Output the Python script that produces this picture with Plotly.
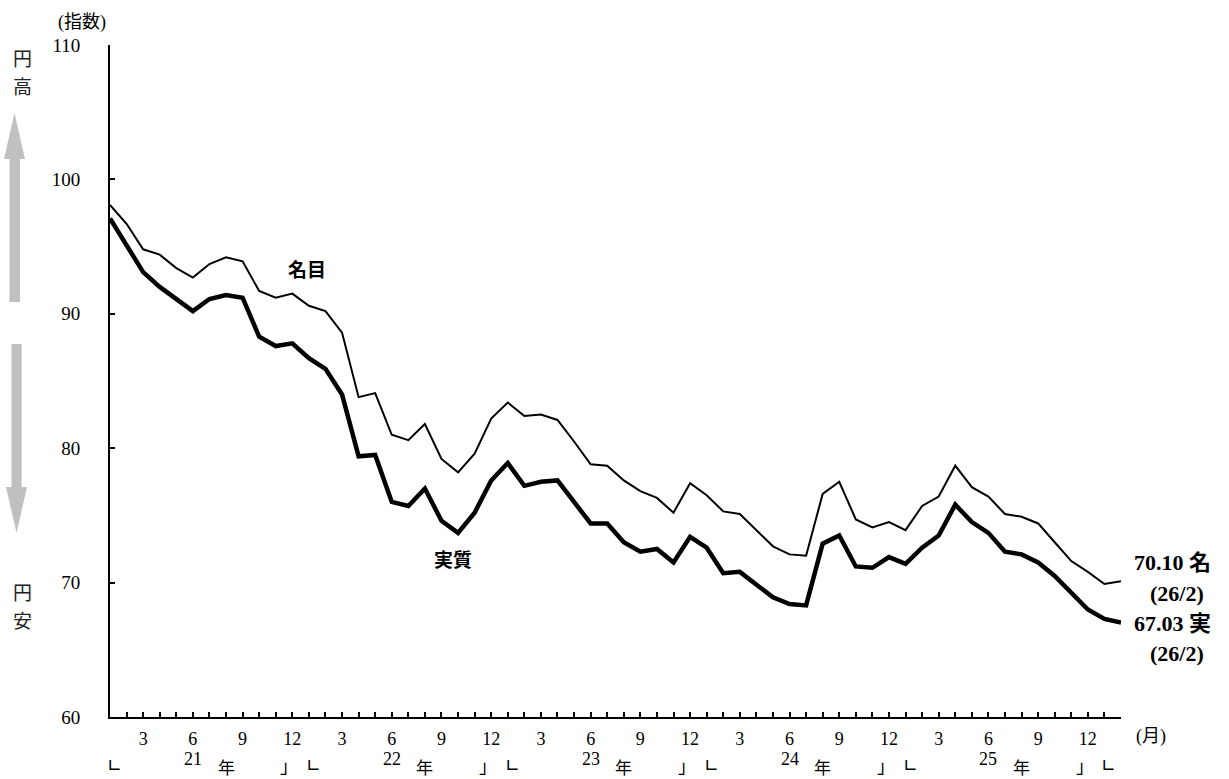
import plotly.graph_objects as go

# ---- data (monthly, Jan 2021 .. Feb 2026) ----
years = ["21", "22", "23", "24", "25", "26"]
month_numbers = [1, 2, 3, 4, 5, 6, 7, 8, 9, 10, 11, 12]
nominal = [98.1, 96.7, 94.8, 94.4, 93.4, 92.7, 93.7, 94.2, 93.9, 91.7, 91.2, 91.5,
           90.6, 90.2, 88.6, 83.8, 84.1, 81.0, 80.6, 81.8, 79.2, 78.2, 79.6, 82.2,
           83.4, 82.4, 82.5, 82.1, 80.5, 78.8, 78.7, 77.6, 76.8, 76.3, 75.2, 77.4,
           76.5, 75.3, 75.1, 73.9, 72.7, 72.1, 72.0, 76.6, 77.5, 74.7, 74.1, 74.5,
           73.9, 75.7, 76.4, 78.7, 77.1, 76.4, 75.1, 74.9, 74.4, 73.0, 71.6, 70.8,
           69.9, 70.10]
real = [97.1, 95.1, 93.1, 92.0, 91.1, 90.2, 91.1, 91.4, 91.2, 88.3, 87.6, 87.8,
        86.7, 85.9, 84.0, 79.4, 79.5, 76.0, 75.7, 77.0, 74.6, 73.7, 75.2, 77.6,
        78.9, 77.2, 77.5, 77.6, 76.0, 74.4, 74.4, 73.0, 72.3, 72.5, 71.5, 73.4,
        72.6, 70.7, 70.8, 69.9, 68.9, 68.4, 68.3, 72.9, 73.5, 71.2, 71.1, 71.9,
        71.4, 72.6, 73.5, 75.8, 74.5, 73.7, 72.3, 72.1, 71.5, 70.5, 69.2, 68.0,
        67.3, 67.03]
y_ticks = [60, 70, 80, 90, 100, 110]
last_label = "(26/2)"

# ---- derived positions ----
n = len(nominal)
x = list(range(n))
month_of = [month_numbers[i % 12] for i in x]
tick_text = [str(m) if m % 3 == 0 else "" for m in month_of]

W, H = 1229, 779
ML, MR, MT, MB = 110, 108, 45, 62
PW, PH = W - ML - MR, H - MT - MB

def px(v):
    return (v - ML) / PW

def py(v):
    return (H - MB - v) / PH

SERIF = "Liberation Serif, Noto Sans CJK JP, serif"
CJK = "Noto Sans CJK JP, sans-serif"

fig = go.Figure()
fig.add_trace(go.Scatter(x=x, y=nominal, mode="lines", name="名目",
                         line=dict(color="black", width=2), showlegend=False))
fig.add_trace(go.Scatter(x=x, y=real, mode="lines", name="実質",
                         line=dict(color="black", width=4.5), showlegend=False))

ann = []
def left_bracket(s):
    return dict(x=s, y=py(765), xref="x", yref="paper", text="∟", showarrow=False,
                font=dict(family="DejaVu Sans", size=18, color="black"),
                xanchor="left", yanchor="middle", xshift=-5)

def right_bracket(s):
    return dict(x=s, y=py(765), xref="x", yref="paper", text="」", showarrow=False,
                font=dict(family=CJK, size=18, color="black"),
                xanchor="left", yanchor="middle", xshift=-14)

# year labels and brackets
for k, yr in enumerate(years[:-1]):
    s = 12 * k
    ann.append(dict(x=s + 5, y=py(759), xref="x", yref="paper", text=yr, showarrow=False,
                    font=dict(family=SERIF, size=18, color="black"), xanchor="center", yanchor="middle"))
    ann.append(dict(x=s + 7, y=py(766), xref="x", yref="paper", text="年", showarrow=False,
                    font=dict(family=CJK, size=17, color="black"), xanchor="center", yanchor="middle"))
    ann.append(left_bracket(s))
    ann.append(right_bracket(s + 11))
ann.append(left_bracket(60))

# axis captions
ann.append(dict(x=px(82), y=py(22), xref="paper", yref="paper", text="(指数)", showarrow=False,
                font=dict(family=SERIF, size=18, color="black"), xanchor="center", yanchor="middle"))
ann.append(dict(x=px(1151), y=py(736), xref="paper", yref="paper", text="(月)", showarrow=False,
                font=dict(family=SERIF, size=18, color="black"), xanchor="center", yanchor="middle"))
for ch, yy in [("円", 57), ("高", 85), ("円", 591), ("安", 619)]:
    ann.append(dict(x=px(22), y=py(yy), xref="paper", yref="paper", text=ch, showarrow=False,
                    font=dict(family=CJK, size=19, color="#222"), xanchor="center", yanchor="middle"))

# series labels
ann.append(dict(x=px(307), y=py(268), xref="paper", yref="paper", text="<b>名目</b>", showarrow=False,
                font=dict(family=CJK, size=19, color="black"), xanchor="center", yanchor="middle"))
ann.append(dict(x=px(453), y=py(558), xref="paper", yref="paper", text="<b>実質</b>", showarrow=False,
                font=dict(family=CJK, size=19, color="black"), xanchor="center", yanchor="middle"))

# end-value labels
ann.append(dict(x=x[-1], y=nominal[-1], xref="x", yref="y", text=f"<b>{nominal[-1]:.2f} 名</b>",
                showarrow=False, xanchor="left", yanchor="middle", xshift=11, yshift=19,
                font=dict(family=SERIF, size=22, color="black")))
ann.append(dict(x=x[-1], y=nominal[-1], xref="x", yref="y", text=f"<b>{last_label}</b>",
                showarrow=False, xanchor="center", yanchor="middle", xshift=56, yshift=-12,
                font=dict(family=SERIF, size=22, color="black")))
ann.append(dict(x=x[-1], y=real[-1], xref="x", yref="y", text=f"<b>{real[-1]:.2f} 実</b>",
                showarrow=False, xanchor="left", yanchor="middle", xshift=11, yshift=-1,
                font=dict(family=SERIF, size=22, color="black")))
ann.append(dict(x=x[-1], y=real[-1], xref="x", yref="y", text=f"<b>{last_label}</b>",
                showarrow=False, xanchor="center", yanchor="middle", xshift=56, yshift=-31,
                font=dict(family=SERIF, size=22, color="black")))

# grey arrows
def poly(pts):
    return "M " + " L ".join(f"{px(a):.5f},{py(b):.5f}" for a, b in pts) + " Z"

up = [(14.5, 113), (25, 159), (20, 159), (20, 302), (9.5, 302), (9.5, 159), (4, 159)]
down = [(16.5, 533), (27, 487), (21.7, 487), (21.7, 344), (11.5, 344), (11.5, 487), (6, 487)]
shapes = [dict(type="path", xref="paper", yref="paper", path=poly(p),
               fillcolor="#c0c0c0", line=dict(width=0)) for p in (up, down)]

fig.update_layout(
    width=W, height=H,
    margin=dict(l=ML, r=MR, t=MT, b=MB),
    paper_bgcolor="white", plot_bgcolor="white",
    annotations=ann, shapes=shapes,
    xaxis=dict(range=[0, n - 1], tickmode="array", tickvals=x, ticktext=tick_text,
               ticks="inside", ticklen=5, tickwidth=1.5, tickcolor="black",
               showline=True, linecolor="black", linewidth=2, showgrid=False, zeroline=False,
               tickangle=0, ticklabelstandoff=4,
               tickfont=dict(family=SERIF, size=18, color="black")),
    yaxis=dict(range=[60, 110], tickmode="array", tickvals=y_ticks,
               ticks="inside", ticklen=5, tickwidth=1.5, tickcolor="black",
               showline=True, linecolor="black", linewidth=2, showgrid=False, zeroline=False,
               ticklabelstandoff=24,
               tickfont=dict(family=SERIF, size=19, color="black")),
)

fig.write_html("out.html", config={"displayModeBar": False},
               post_script="document.body.style.margin='0';document.body.style.overflow='hidden';")
